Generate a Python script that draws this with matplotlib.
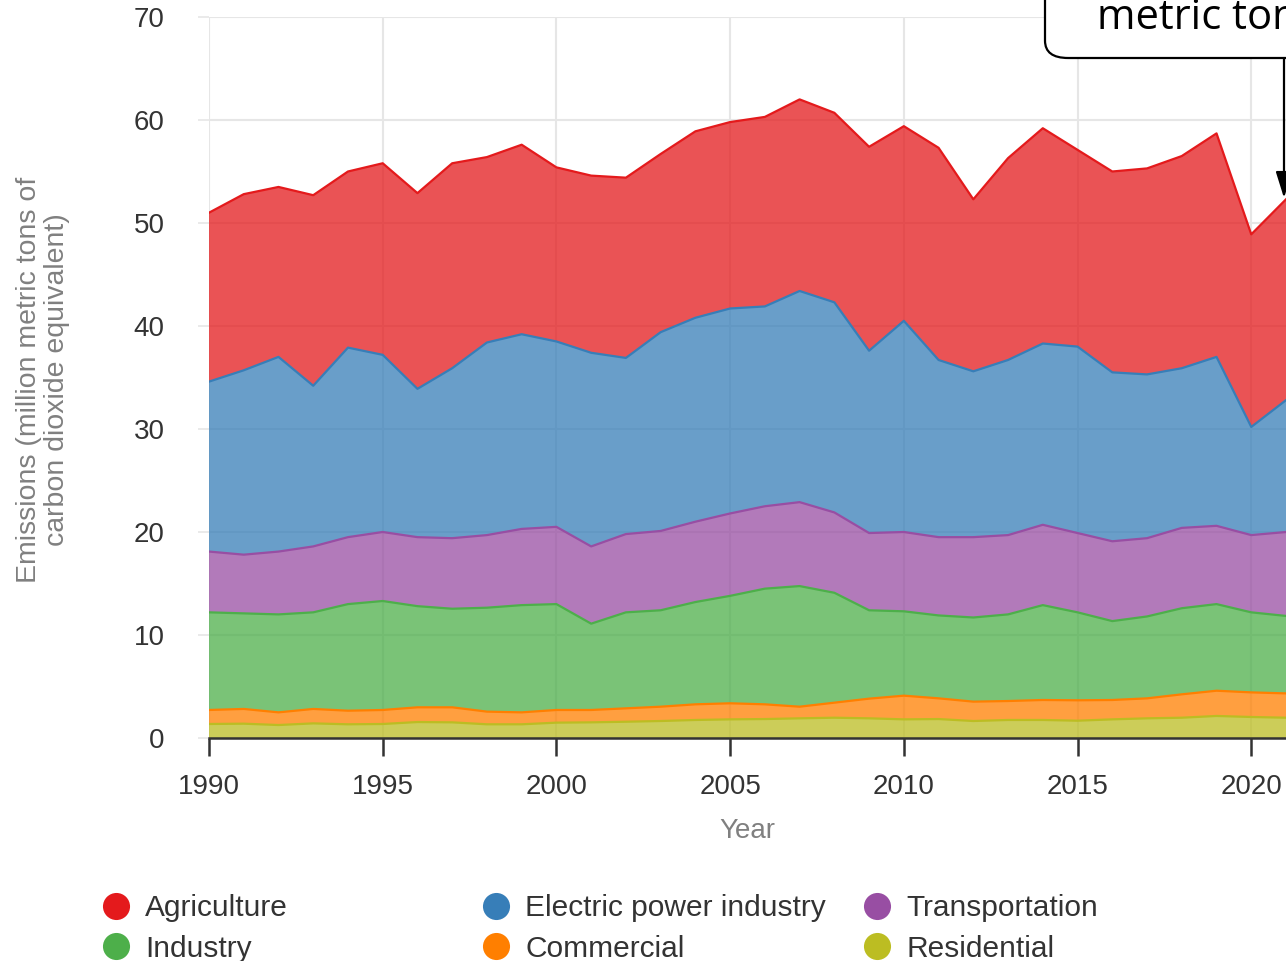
import matplotlib
matplotlib.use("Agg")
import matplotlib.pyplot as plt
import numpy as np
from matplotlib.lines import Line2D
from matplotlib.patches import FancyBboxPatch, FancyArrowPatch

plt.rcParams['font.family'] = ['Liberation Sans', 'DejaVu Sans']

years = list(range(1990, 2022))

residential = [1.36, 1.39, 1.26, 1.42, 1.33, 1.36, 1.55, 1.52, 1.33, 1.33, 1.49, 1.52,
               1.58, 1.65, 1.75, 1.81, 1.84, 1.91, 1.97, 1.91, 1.81, 1.84, 1.65, 1.75,
               1.75, 1.68, 1.81, 1.91, 1.97, 2.14, 2.04, 1.97]
commercial = [1.36, 1.43, 1.23, 1.40, 1.32, 1.36, 1.43, 1.46, 1.23, 1.16, 1.23, 1.20,
              1.30, 1.39, 1.52, 1.56, 1.43, 1.13, 1.46, 1.91, 2.30, 2.01, 1.88, 1.84,
              1.94, 1.98, 1.88, 1.94, 2.27, 2.45, 2.39, 2.36]
industry = [9.48, 9.28, 9.51, 9.38, 10.35, 10.58, 9.82, 9.57, 10.09, 10.41, 10.28, 8.38,
            9.32, 9.36, 9.93, 10.43, 11.23, 11.71, 10.67, 8.58, 8.19, 8.05, 8.17, 8.41,
            9.21, 8.54, 7.66, 7.95, 8.36, 8.41, 7.77, 7.52]
transportation = [5.9, 5.7, 6.1, 6.4, 6.5, 6.7, 6.7, 6.85, 7.05, 7.4, 7.5, 7.5,
                  7.6, 7.7, 7.8, 8.0, 8.0, 8.15, 7.8, 7.5, 7.7, 7.6, 7.8, 7.7,
                  7.8, 7.7, 7.75, 7.6, 7.8, 7.6, 7.5, 8.15]
electric = [16.5, 17.9, 18.9, 15.6, 18.4, 17.2, 14.4, 16.5, 18.7, 18.9, 18.0, 18.8,
            17.1, 19.3, 19.8, 19.9, 19.4, 20.5, 20.4, 17.7, 20.5, 17.2, 16.1, 17.0,
            17.6, 18.1, 16.4, 15.9, 15.5, 16.4, 10.5, 12.8]
agriculture = [16.4, 17.1, 16.5, 18.5, 17.1, 18.6, 19.0, 19.9, 18.0, 18.4, 16.9, 17.2,
               17.5, 17.3, 18.1, 18.1, 18.4, 18.6, 18.4, 19.8, 18.9, 20.6, 16.7, 19.6,
               20.9, 19.1, 19.5, 20.0, 20.6, 21.7, 18.7, 19.5]

series_names = ["Residential", "Commercial", "Industry", "Transportation",
                "Electric power industry", "Agriculture"]
series_colors = ["#bcbd22", "#ff7f00", "#4daf4a", "#984ea3", "#377eb8", "#e41a1c"]
x_ticks = [1990, 1995, 2000, 2005, 2010, 2015, 2020]
y_ticks = [0, 10, 20, 30, 40, 50, 60, 70]

W, H = 1286, 961
fig = plt.figure(figsize=(W / 100, H / 100), dpi=100)
ax = fig.add_axes([209 / W, 1 - 738 / H, 1 - 209 / W, (738 - 17) / H])

data = [residential, commercial, industry, transportation, electric, agriculture]
ax.stackplot(years, data, colors=series_colors, alpha=0.75, linewidth=0, zorder=2)
tops = np.cumsum(np.array(data), axis=0)
for top, c in zip(tops, series_colors):
    ax.plot(years, top, color=c, lw=1.6, zorder=3)

ax.set_xlim(1990, 2021)
ax.set_ylim(0, 70)
ax.set_xticks(x_ticks)
ax.set_yticks(y_ticks)
ax.grid(True, color="#e6e6e6", lw=1.5, zorder=0)
ax.set_axisbelow(True)
for s in ["top", "right", "left"]:
    ax.spines[s].set_visible(False)
ax.spines["bottom"].set_color("#333333")
ax.spines["bottom"].set_linewidth(1.8)
ax.spines["bottom"].set_zorder(5)
ax.tick_params(axis="x", length=13, width=1.8, color="#333333", labelsize=20,
               labelcolor="#333333", pad=13)
ax.tick_params(axis="y", length=8, width=1.2, color="#e6e6e6", labelsize=20,
               labelcolor="#333333", pad=24)
ax.set_xlabel("Year", fontsize=20, color="#808080", labelpad=13)
fig.text(43 / W, 1 - 380 / H, "Emissions (million metric tons of\ncarbon dioxide equivalent)",
         rotation=90, ha="center", va="center", fontsize=20.5, color="#808080",
         linespacing=1.12)

# legends
fs_leg = 21.5
legend_cols = [
    (["Agriculture", "Industry"], ["#e41a1c", "#4daf4a"], 103),
    (["Electric power industry", "Commercial"], ["#377eb8", "#ff7f00"], 483),
    (["Transportation", "Residential"], ["#984ea3", "#bcbd22"], 864),
]
for labels, cols, xpx in legend_cols:
    handles = [Line2D([], [], ls="none", marker="o", markersize=19.5,
                      markerfacecolor=c, markeredgecolor="none") for c in cols]
    leg = fig.legend(handles, labels, loc="upper left",
                     bbox_to_anchor=(xpx / W, 1 - 894 / H), frameon=False,
                     fontsize=fs_leg, handlelength=0.9, handletextpad=0.52,
                     labelspacing=0.42, borderpad=0, borderaxespad=0)
    for t in leg.get_texts():
        t.set_color("#333333")

# annotation box (cropped at top/right)
box = FancyBboxPatch((1045 / W, 1 - 58 / H), 400 / W, 120 / H,
                     boxstyle="round,pad=0,rounding_size=0.018",
                     transform=fig.transFigure, facecolor="white",
                     edgecolor="black", lw=1.6, zorder=10, clip_on=False)
fig.patches.append(box)
fig.text(1097 / W, 1 - 29 / H, "metric tons", fontsize=30, color="black",
         family=["Open Sans", "DejaVu Sans"], ha="left", va="baseline", zorder=11)
arrow = FancyArrowPatch((1284 / W, 1 - 58 / H), (1284 / W, 1 - 198 / H),
                        transform=fig.transFigure,
                        arrowstyle="-|>,head_length=0.8,head_width=0.25",
                        mutation_scale=20, color="black", lw=1.6, zorder=11,
                        shrinkA=0, shrinkB=0)
fig.patches.append(arrow)

fig.savefig("out.png", dpi=100)
